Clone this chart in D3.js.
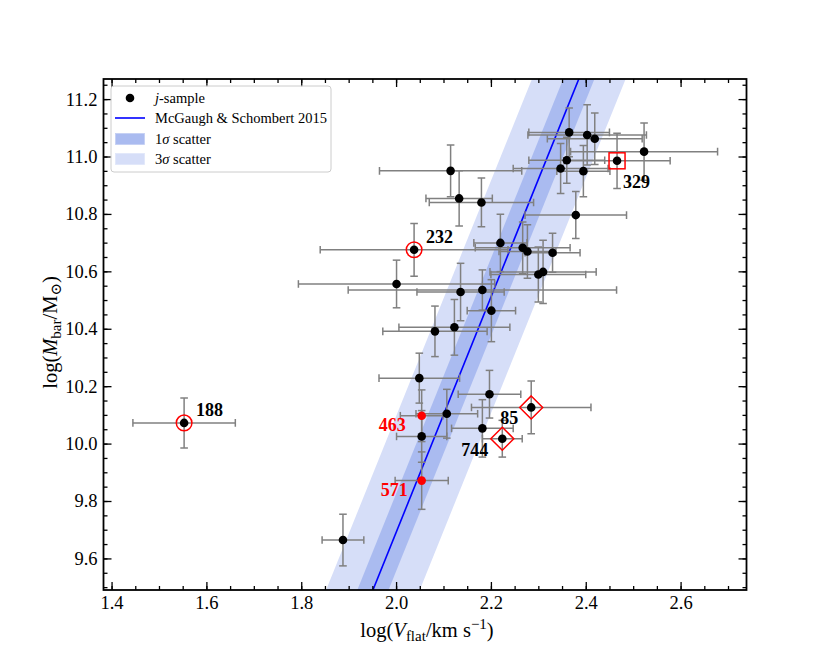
<!DOCTYPE html>
<html><head><meta charset="utf-8">
<script src="https://cdn.jsdelivr.net/npm/d3@7"></script>
<style>body{margin:0;background:#fff} svg text{font-family:"Liberation Serif","DejaVu Serif",serif !important}</style>
</head><body><svg id="c" width="830" height="664"></svg>
<script>
// ---- data ----
const logV = [2.365,2.403,2.419,2.523,2.466,2.360,2.347,2.395,2.115,2.133,2.180,2.379,2.038,2.220,2.267,2.277,2.330,2.310,2.300,2.001,2.136,2.182,2.201,2.082,2.123,2.049,2.197,2.285,2.054,2.107,2.182,2.054,2.224,2.054,1.553,1.888];
const logM = [11.084,11.075,11.062,11.017,10.985,10.987,10.958,10.949,10.950,10.854,10.840,10.796,10.675,10.699,10.682,10.669,10.665,10.598,10.589,10.556,10.528,10.535,10.463,10.391,10.405,10.228,10.172,10.126,10.097,10.104,10.053,10.025,10.017,9.871,10.072,9.664];
const errV = [0.085,0.125,0.100,0.155,0.112,0.080,0.100,0.056,0.150,0.070,0.110,0.107,0.198,0.056,0.100,0.060,0.058,0.112,0.100,0.207,0.092,0.283,0.051,0.110,0.117,0.085,0.066,0.126,0.045,0.065,0.065,0.053,0.042,0.056,0.108,0.044];
const errM = [0.085,0.105,0.090,0.100,0.096,0.080,0.087,0.089,0.090,0.096,0.085,0.082,0.092,0.100,0.090,0.093,0.068,0.110,0.096,0.083,0.100,0.070,0.108,0.088,0.097,0.087,0.083,0.092,0.090,0.085,0.100,0.090,0.064,0.100,0.087,0.090];
const names = ["","","","","329","","","","","","","","232","","","","","","","","","","","","","","","85","463","","","","744","571","188",""];
const circled = ["188","232"];
const boxed = ["329"];
const diamonds = ["85","744"];
const redPoints = ["463","571"];
// McGaugh & Schombert 2015 relation
const relSlope = 4.1, relIntercept = 1.49, relSigma = 0.135;
const xTicks = [1.4,1.6,1.8,2.0,2.2,2.4,2.6];
const yTicks = [9.6,9.8,10.0,10.2,10.4,10.6,10.8,11.0,11.2];
const legendLabels = ["j-sample","McGaugh & Schombert 2015","1σ scatter","3σ scatter"];

// ---- layout ----
const FONT = "'Liberation Serif','DejaVu Serif',serif";
const m = {l:103.5, r:746.5, t:79, b:590};
const xDom = [1.383, 2.739], yDom = [9.49, 11.27];
const x = d3.scaleLinear().domain(xDom).range([m.l, m.r]);
const y = d3.scaleLinear().domain(yDom).range([m.b, m.t]);
const svg = d3.select("#c");

svg.append("defs").append("clipPath").attr("id","clip")
  .append("rect").attr("x",m.l).attr("y",m.t).attr("width",m.r-m.l).attr("height",m.b-m.t);
const plot = svg.append("g").attr("clip-path","url(#clip)");

const rel = v => relSlope*v + relIntercept;
function band(k){
  const x0 = xDom[0]-0.2, x1 = xDom[1]+0.2;
  return [[x0, rel(x0)-k],[x1, rel(x1)-k],[x1, rel(x1)+k],[x0, rel(x0)+k]]
    .map(p => [x(p[0]), y(p[1])]);
}
const lineGen = d3.line();
plot.append("path").attr("d", lineGen(band(3*relSigma))+"Z").attr("fill","#d6def8");
plot.append("path").attr("d", lineGen(band(relSigma))+"Z").attr("fill","#aabbf0");
plot.append("path").attr("d", lineGen([[x(xDom[0]-0.2), y(rel(xDom[0]-0.2))],[x(xDom[1]+0.2), y(rel(xDom[1]+0.2))]]))
  .attr("stroke","#0000ff").attr("stroke-width",1.6).attr("fill","none");

// error bars
const pts = logV.map((v,i)=>({v, M:logM[i], ev:errV[i], eM:errM[i], name:names[i]}));
const eb = plot.append("g").attr("stroke","#808080").attr("stroke-width",1.5).attr("fill","none");
const cap = 3.8;
pts.forEach(p=>{
  const cx = x(p.v), cy = y(p.M);
  const xl = x(p.v-p.ev), xr = x(p.v+p.ev), yt = y(p.M+p.eM), yb = y(p.M-p.eM);
  eb.append("line").attr("x1",xl).attr("x2",xr).attr("y1",cy).attr("y2",cy);
  eb.append("line").attr("x1",cx).attr("x2",cx).attr("y1",yt).attr("y2",yb);
  eb.append("line").attr("x1",xl).attr("x2",xl).attr("y1",cy-cap).attr("y2",cy+cap);
  eb.append("line").attr("x1",xr).attr("x2",xr).attr("y1",cy-cap).attr("y2",cy+cap);
  eb.append("line").attr("x1",cx-cap).attr("x2",cx+cap).attr("y1",yt).attr("y2",yt);
  eb.append("line").attr("x1",cx-cap).attr("x2",cx+cap).attr("y1",yb).attr("y2",yb);
});
// points
plot.append("g").selectAll("circle").data(pts).join("circle")
  .attr("cx",d=>x(d.v)).attr("cy",d=>y(d.M)).attr("r",4.3)
  .attr("fill",d=>redPoints.includes(d.name)?"#ff0000":"#000");
// highlight markers
const hl = plot.append("g").attr("fill","none").attr("stroke","#ff0000").attr("stroke-width",1.5);
pts.forEach(p=>{
  const cx = x(p.v), cy = y(p.M);
  if (circled.includes(p.name)) hl.append("circle").attr("cx",cx).attr("cy",cy).attr("r",7.8);
  if (boxed.includes(p.name)) hl.append("rect").attr("x",cx-8).attr("y",cy-8).attr("width",16).attr("height",16);
  if (diamonds.includes(p.name)) hl.append("path").attr("d",`M${cx},${cy-11.5}L${cx+11.5},${cy}L${cx},${cy+11.5}L${cx-11.5},${cy}Z`);
});
// labels
const labelOffset = {"188":[12,-7],"232":[12,-7],"329":[6,27],"85":[-31,17],"744":[-41,17],"463":[-43,15],"571":[-41,15]};
pts.filter(p=>p.name).forEach(p=>{
  const o = labelOffset[p.name];
  svg.append("text").attr("x",x(p.v)+o[0]).attr("y",y(p.M)+o[1])
    .style("font-family",FONT).style("font-size","18px").style("font-weight","bold")
    .attr("fill", redPoints.includes(p.name)?"#ff0000":"#000").text(p.name);
});

// axes
const minorX = d3.range(1.40, 2.7001, 0.05), minorY = d3.range(9.50, 11.2501, 0.05);
function styleAxis(g){
  g.attr("font-family",null).attr("font-size",null);
  g.select(".domain").remove();
  g.selectAll("line").attr("stroke","#000").attr("stroke-width",1.3);
  g.selectAll("text").style("font-size","18.5px").style("font-family",FONT).attr("fill","#000");
}
svg.append("g").attr("transform",`translate(0,${m.b})`).call(d3.axisBottom(x).tickValues(xTicks).tickFormat(d3.format(".1f")).tickSizeInner(-8).tickSizeOuter(0).tickPadding(6)).call(styleAxis);
svg.append("g").attr("transform",`translate(0,${m.b})`).call(d3.axisBottom(x).tickValues(minorX).tickFormat("").tickSizeInner(-4).tickSizeOuter(0)).call(styleAxis);
svg.append("g").attr("transform",`translate(0,${m.t})`).call(d3.axisTop(x).tickValues(xTicks).tickFormat("").tickSizeInner(-8).tickSizeOuter(0)).call(styleAxis);
svg.append("g").attr("transform",`translate(0,${m.t})`).call(d3.axisTop(x).tickValues(minorX).tickFormat("").tickSizeInner(-4).tickSizeOuter(0)).call(styleAxis);
svg.append("g").attr("transform",`translate(${m.l},0)`).call(d3.axisLeft(y).tickValues(yTicks).tickFormat(d3.format(".1f")).tickSizeInner(-8).tickSizeOuter(0).tickPadding(6)).call(styleAxis);
svg.append("g").attr("transform",`translate(${m.l},0)`).call(d3.axisLeft(y).tickValues(minorY).tickFormat("").tickSizeInner(-4).tickSizeOuter(0)).call(styleAxis);
svg.append("g").attr("transform",`translate(${m.r},0)`).call(d3.axisRight(y).tickValues(yTicks).tickFormat("").tickSizeInner(-8).tickSizeOuter(0)).call(styleAxis);
svg.append("g").attr("transform",`translate(${m.r},0)`).call(d3.axisRight(y).tickValues(minorY).tickFormat("").tickSizeInner(-4).tickSizeOuter(0)).call(styleAxis);
svg.append("rect").attr("x",m.l).attr("y",m.t).attr("width",m.r-m.l).attr("height",m.b-m.t)
  .attr("fill","none").attr("stroke","#000").attr("stroke-width",1.8);

// axis titles
const xl = svg.append("text").attr("x",(m.l+m.r)/2+2).attr("y",637).attr("text-anchor","middle")
  .style("font-family",FONT).style("font-size","20.5px");
xl.append("tspan").text("log(");
xl.append("tspan").style("font-style","italic").text("V");
xl.append("tspan").style("font-size","15px").attr("dy",4).text("flat");
xl.append("tspan").attr("dy",-4).text("/km s");
xl.append("tspan").style("font-size","15px").attr("dy",-8).text("−1");
xl.append("tspan").attr("dy",8).text(")");
const yl = svg.append("text").attr("transform",`translate(57,${(m.t+m.b)/2-2}) rotate(-90)`).attr("text-anchor","middle")
  .style("font-family",FONT).style("font-size","20.5px");
yl.append("tspan").text("log(");
yl.append("tspan").style("font-style","italic").text("M");
yl.append("tspan").style("font-size","15px").attr("dy",4).text("bar");
yl.append("tspan").attr("dy",-4).text("/M");
yl.append("tspan").style("font-size","15px").attr("dy",4).text("⊙");
yl.append("tspan").attr("dy",-4).text(")");

// legend
const lg = svg.append("g");
lg.append("rect").attr("x",111).attr("y",86).attr("width",220).attr("height",86).attr("rx",3)
  .attr("fill","#fff").attr("fill-opacity",0.8).attr("stroke","#cccccc").attr("stroke-width",1);
const ly = [98, 118, 139, 159];
lg.append("circle").attr("cx",130).attr("cy",ly[0]).attr("r",4.3).attr("fill","#000");
lg.append("line").attr("x1",115).attr("x2",145).attr("y1",ly[1]).attr("y2",ly[1]).attr("stroke","#0000ff").attr("stroke-width",1.6);
lg.append("rect").attr("x",115.5).attr("y",ly[2]-5.5).attr("width",29).attr("height",11).attr("fill","#aabbf0").attr("stroke","#c2cef3").attr("stroke-width",0.8);
lg.append("rect").attr("x",115.5).attr("y",ly[3]-5.5).attr("width",29).attr("height",11).attr("fill","#d6def8").attr("stroke","#e0e6f9").attr("stroke-width",0.8);
legendLabels.forEach((t,i)=>{
  const tx = lg.append("text").attr("x",155).attr("y",ly[i]+4.5).style("font-family",FONT).style("font-size","14.5px");
  if (i===0){ tx.append("tspan").style("font-style","italic").text("j"); tx.append("tspan").text("-sample"); }
  else if (i>=2){ tx.append("tspan").text(t[0]); tx.append("tspan").style("font-style","italic").text("σ"); tx.append("tspan").text(t.slice(2)); }
  else tx.text(t);
});
</script></body></html>
